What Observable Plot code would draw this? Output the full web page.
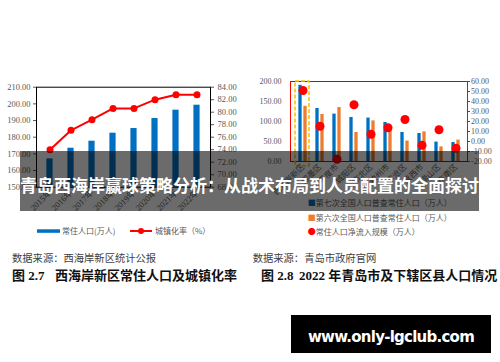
<!DOCTYPE html>
<html><head><meta charset="utf-8">
<script src="https://cdn.jsdelivr.net/npm/d3@7"></script>
<script src="https://cdn.jsdelivr.net/npm/@observablehq/plot@0.6"></script>
<style>
body{margin:0;background:#fff;}
#root{position:relative;width:500px;height:362px;overflow:hidden;background:#fff;font-family:"Liberation Serif","Noto Sans CJK SC",serif;}
.abs{position:absolute;white-space:nowrap;line-height:1;}
.cap{font-family:"Noto Sans CJK SC",sans-serif;font-size:10.3px;color:#404040;}
.fig{font-family:"Liberation Serif","Noto Sans CJK SC",serif;font-size:13px;font-weight:bold;color:#111;}
.leg{font-family:"Noto Sans CJK SC",sans-serif;font-size:8px;color:#595959;}
#plotL,#plotR{position:absolute;top:70px;}
#plotL{left:0}
#plotR{left:250px}
</style></head><body><div id="root">
<div id="plotL"></div><div id="plotR"></div>
</div>
<script>
// ---- Left chart data (西海岸新区) ----
const years = ["2015年","2016年","2017年","2018年","2019年","2020年","2021年","2022年"];
const population = [167.0,173.4,177.6,182.4,185.2,191.2,196.2,199.2];
const urbanRate = [74.0,77.1,78.8,80.6,80.6,82.0,82.8,82.8];
const leftTicksL = [150,160,170,180,190,200,210];
const rightTicksL = [68,70,72,74,76,78,80,82,84];

// ---- Right chart data (青岛市及下辖区县) ----
const districts = ["西海岸新区","即墨区","平度市","城阳区","市北区","胶州市","李沧区","莱西市","崂山区","市南区"];
const census7 = [190.5,132.5,118.5,110.0,108.5,97.5,72.5,70.0,48.5,47.5];
const census6 = [138.0,117.5,135.0,72.5,101.5,84.0,51.0,74.0,36.5,53.5];
const netInflow = [51.0,15.3,-17.7,36.7,7.3,13.7,22.0,-3.7,11.7,-6.7];
const leftTicksR = [0,50,100,150,200];
const rightTicksR = [-20,-10,0,10,20,30,40,50,60];

const root = document.getElementById("root");
function addText(txt, x, cy, size, cls, extra){
  const d = document.createElement("div");
  d.className = "abs " + cls;
  d.textContent = txt;
  d.style.left = x + "px";
  d.style.top = (cy - size/2) + "px";
  if (extra) Object.assign(d.style, extra);
  root.appendChild(d);
  return d;
}

// Left plot
const lData = years.map((y,i)=>({year:y, pop:population[i], rate:urbanRate[i]}));
const toL = v => 150 + (v-68)*(60/16);
const fromL = p => 68 + (p-150)*(16/60);
const plotL = Plot.plot({
  width:250, height:150, marginLeft:36, marginRight:40, marginTop:16.7, marginBottom:33.3,
  style:{fontFamily:'"Liberation Serif","Noto Sans CJK SC",serif', fontSize:"8.5px", color:"#595959", background:"transparent", overflow:"visible"},
  x:{type:"band", domain:years, padding:0, label:null},
  y:{domain:[150,210], label:null},
  marks:[
    Plot.barY(lData,{x:"year", y1:150, y2:"pop", fill:"#0070C0", insetLeft:7.4, insetRight:7.4}),
    Plot.lineY(lData,{x:"year", y:d=>toL(d.rate), stroke:"#FF0000", strokeWidth:2}),
    Plot.dot(lData,{x:"year", y:d=>toL(d.rate), r:3.5, fill:"#FF0000"}),
    Plot.frame({stroke:"#000"}),
    Plot.axisY(leftTicksL,{anchor:"left", tickSize:3, tickPadding:3, tickFormat:d=>d.toFixed(2)}),
    Plot.axisY(rightTicksL.map(toL),{anchor:"right", tickSize:3, tickPadding:4, tickFormat:d=>fromL(d).toFixed(2)}),
    Plot.axisX({tickRotate:-45, tickSize:0, tickPadding:4})
  ]
});
document.getElementById("plotL").appendChild(plotL);

// Right plot
const rData = districts.map((c,i)=>({cat:c, c7:census7[i], c6:census6[i], net:netInflow[i]}));
const toR = v => (v+20)*2.5;
const fromR = p => p/2.5 - 20;
const plotR = Plot.plot({
  width:250, height:150, marginLeft:40, marginRight:33, marginTop:11, marginBottom:59,
  style:{fontFamily:'"Liberation Serif","Noto Sans CJK SC",serif', fontSize:"8px", color:"#595959", background:"transparent", overflow:"visible"},
  x:{type:"band", domain:districts, padding:0, label:null},
  y:{domain:[0,200], label:null},
  marks:[
    Plot.barY(rData,{x:"cat", y:"c7", fill:"#0070C0", insetLeft:4.35, insetRight:9.35}),
    Plot.barY(rData,{x:"cat", y:"c6", fill:"#ED7D31", insetLeft:9.35, insetRight:4.35}),
    Plot.ruleY([200],{stroke:"#404040"}),
    Plot.ruleY([0],{stroke:"#404040"}),
    Plot.frame({anchor:"left", stroke:"#FF0000"}),
    Plot.frame({anchor:"right", stroke:"#FF0000"}),
    Plot.barY([districts[0]],{x:d=>d, y1:fromR(-11.75)*0-11.75, y2:200, fill:"none", stroke:"#FFC000", strokeWidth:1.6, strokeDasharray:"4,2", insetLeft:1, insetRight:2}),
    Plot.dot(rData,{x:"cat", y:d=>toR(d.net), r:4.5, fill:"#FF0000"}),
    Plot.axisY(leftTicksR,{anchor:"left", tickSize:0, tickPadding:9, tickFormat:d=>d.toFixed(2)}),
    Plot.axisY(rightTicksR.map(toR),{anchor:"right", tickSize:2, tickPadding:1.5, stroke:"#FF0000", fill:"#595959", tickFormat:d=>fromR(d).toFixed(2)}),
    Plot.axisX({tickRotate:-45, tickSize:0, tickPadding:4})
  ]
});
document.getElementById("plotR").appendChild(plotR);

// Left legend
const legL = document.createElementNS("http://www.w3.org/2000/svg","svg");
legL.setAttribute("width","500"); legL.setAttribute("height","362");
legL.style.position="absolute"; legL.style.left="0"; legL.style.top="0";
legL.innerHTML = '<rect x="37" y="229.3" width="23" height="3.5" fill="#0070C0"/>' +
  '<line x1="130" y1="231" x2="152" y2="231" stroke="#FF0000" stroke-width="2"/>' +
  '<circle cx="141" cy="231" r="3" fill="#FF0000"/>';
root.appendChild(legL);
addText("常住人口(万人)", 62, 231, 8, "leg");
addText("城镇化率（%）", 155, 231, 8, "leg");

// Right legend
const legItems = [["■","#0070C0","第七次全国人口普查常住人口（万人）",202.7],["■","#ED7D31","第六次全国人口普查常住人口（万人）",217.7],["●","#FF0000","常住人口净流入规模（万人）",232.3]];
legItems.forEach(([sym,col,txt,cy])=>{
  const d = addText("", 307.7, cy, 8, "leg");
  d.innerHTML = '<span style="color:'+col+'">'+sym+'</span>'+txt;
});

// Captions
addText("数据来源：西海岸新区统计公报", 12, 258.3, 10.3, "cap");
addText("数据来源：青岛市政府官网", 252.7, 258.3, 10.3, "cap");
addText("图 2.7", 12, 275.3, 13, "fig");
addText("西海岸新区常住人口及城镇化率", 55, 275.3, 13, "fig");
addText("图 2.8", 261, 275.3, 13, "fig");
addText("2022 年青岛市及下辖区县人口情况", 299, 275.3, 13, "fig");

// Overlay banner
const banner = document.createElement("div");
Object.assign(banner.style,{position:"absolute",left:"20px",top:"151px",width:"459px",height:"60px",background:"rgba(0,0,0,0.58)"});
root.appendChild(banner);
const bt = addText("青岛西海岸赢球策略分析：从战术布局到人员配置的全面探讨", 20, 184.7, 17, "", {fontFamily:'"Noto Sans CJK SC",sans-serif', fontWeight:"bold", fontSize:"17px", color:"#fff", width:"459px", textAlign:"center"});

// URL box
const url = document.createElement("div");
Object.assign(url.style,{position:"absolute",left:"291px",top:"315px",width:"200px",height:"38px",background:"#000"});
root.appendChild(url);
addText("www.only-lgclub.com", 291, 338, 15, "", {fontFamily:'"DejaVu Sans",sans-serif', fontWeight:"bold", fontSize:"15px", color:"#fff", width:"200px", textAlign:"center", letterSpacing:"-0.75px", top:"330.3px"});
</script>
</body></html>
